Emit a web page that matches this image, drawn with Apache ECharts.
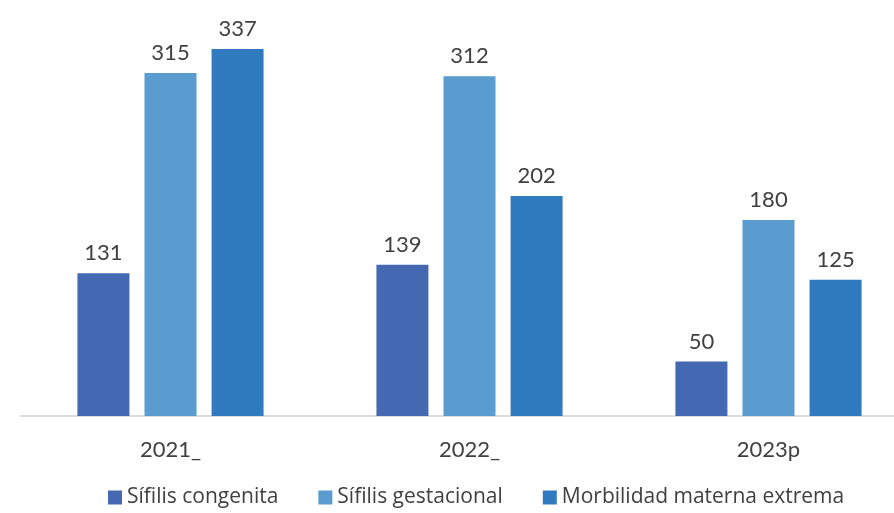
<!DOCTYPE html>
<html>
<head>
<meta charset="utf-8">
<script src="https://cdn.jsdelivr.net/npm/echarts@6/dist/echarts.min.js"></script>
<style>
  html, body { margin: 0; padding: 0; background: #fff; }
  #chart { width: 894px; height: 513px; }
</style>
</head>
<body>
<div id="chart"></div>
<script>
// 数据
const categories = ['2021_', '2022_', '2023p']
const sifilisCongenita = [131, 139, 50]
const sifilisGestacional = [315, 312, 180]
const morbilidadMaterna = [337, 202, 125]
const seriesNames = ['Sífilis congenita', 'Sífilis gestacional', 'Morbilidad materna extrema']
const colors = ['#4468B1', '#5A9BD0', '#307BBF']

const myChart = echarts.init(document.getElementById('chart'))
const font = 'Lato, "Open Sans", sans-serif'

function bar(name, data, color) {
  return {
    name: name,
    type: 'bar',
    data: data,
    barWidth: 52,
    barGap: '29%',
    itemStyle: { color: color },
    label: {
      show: true,
      position: 'top',
      distance: 9,
      color: '#404040',
      fontSize: 22,
      fontFamily: font
    }
  }
}

const option = {
  animation: false,
  color: colors,
  grid: {
    left: 21,
    width: 897,
    top: 0,
    bottom: 97,
    outerBoundsMode: 'none'
  },
  legend: {
    left: 103,
    bottom: 0,
    itemWidth: 14,
    itemHeight: 14,
    itemGap: 40,
    icon: 'rect',
    textStyle: { color: '#404040', fontSize: 21, fontFamily: '"Open Sans", sans-serif' },
    data: seriesNames
  },
  xAxis: {
    type: 'category',
    data: categories,
    axisTick: { show: false },
    axisLine: { lineStyle: { color: '#d0d0d0', width: 1.5 } },
    axisLabel: { color: '#404040', fontSize: 22, margin: 23, fontFamily: font }
  },
  yAxis: {
    type: 'value',
    min: 0,
    max: 382,
    show: false,
    splitLine: { show: false }
  },
  series: [
    bar(seriesNames[0], sifilisCongenita, colors[0]),
    bar(seriesNames[1], sifilisGestacional, colors[1]),
    bar(seriesNames[2], morbilidadMaterna, colors[2])
  ]
}
myChart.setOption(option)
window.addEventListener('resize', function() {
  myChart.resize()
})
</script>
</body>
</html>
